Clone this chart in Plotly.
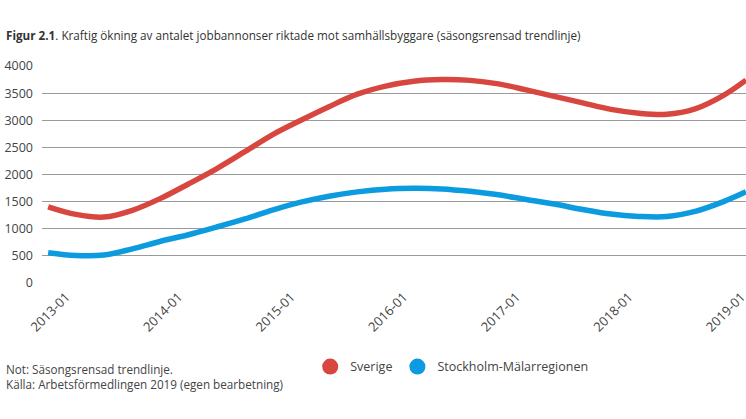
import plotly.graph_objects as go

# Quarterly readings of the seasonally adjusted trend lines
dates = ["2013-01-01", "2013-04-01", "2013-07-01", "2013-10-01",
         "2014-01-01", "2014-04-01", "2014-07-01", "2014-10-01",
         "2015-01-01", "2015-04-01", "2015-07-01", "2015-10-01",
         "2016-01-01", "2016-04-01", "2016-07-01", "2016-10-01",
         "2017-01-01", "2017-04-01", "2017-07-01", "2017-10-01",
         "2018-01-01", "2018-04-01", "2018-07-01", "2018-10-01",
         "2019-01-01", "2019-03-15"]
sverige = [1405, 1265, 1215, 1340, 1560, 1825, 2105, 2420, 2740, 3000,
           3250, 3480, 3630, 3720, 3750, 3735, 3670, 3560, 3440, 3320,
           3200, 3130, 3110, 3210, 3460, 3740]
stockholm = [558, 505, 515, 630, 770, 890, 1030, 1180, 1350, 1490,
             1600, 1680, 1730, 1745, 1735, 1690, 1625, 1540, 1455, 1355,
             1270, 1228, 1225, 1320, 1500, 1681]
tick_vals = ["2013-01-01", "2014-01-01", "2015-01-01", "2016-01-01",
             "2017-01-01", "2018-01-01", "2019-01-01"]
tick_text = ["2013-01", "2014-01", "2015-01", "2016-01", "2017-01", "2018-01", "2019-01"]
y_ticks = [0, 500, 1000, 1500, 2000, 2500, 3000, 3500, 4000]
series_names = ["Sverige", "Stockholm-Mälarregionen"]
colors = ["#d8473f", "#0d9be0"]

FONT = "Open Sans"

fig = go.Figure()
for name, vals, col in zip(series_names, [sverige, stockholm], colors):
    fig.add_trace(go.Scatter(x=dates, y=vals, mode="lines", name=name,
                             line=dict(color=col, width=5.5, shape="spline", smoothing=1.0),
                             showlegend=False, hoverinfo="x+y"))
for name, col in zip(series_names, colors):
    fig.add_trace(go.Scatter(x=[None], y=[None], mode="markers", name=name,
                             marker=dict(color=col, size=17, symbol="circle"),
                             showlegend=True))

fig.update_layout(
    width=746, height=419,
    margin=dict(l=42, r=0, t=66, b=136, pad=0, autoexpand=False),
    paper_bgcolor="white", plot_bgcolor="white",
    font=dict(family=FONT, size=12, color="#444"),
    xaxis=dict(type="date", range=["2012-12-12", "2019-03-15"],
               tickvals=tick_vals, ticktext=tick_text, tickangle=-45,
               showgrid=False, zeroline=False, showline=False,
               tickfont=dict(size=13, color="#444"), ticklabelshift=18,
               ticklabelstandoff=3,
               ticklabeloverflow="allow", automargin=False,
               fixedrange=True),
    yaxis=dict(range=[0, 4000], tickvals=y_ticks, showgrid=True,
               gridcolor="#9a9a9a", gridwidth=1.2, zeroline=False,
               showline=False, tickfont=dict(size=12.5, color="#444"),
               ticklabelstandoff=8, automargin=False, fixedrange=True),
    legend=dict(orientation="h", x=0.381, xanchor="left", y=-0.387, yanchor="middle",
                font=dict(size=12.5, color="#444"), itemwidth=30,
                bgcolor="rgba(0,0,0,0)"),
    showlegend=True,
)

fig.add_annotation(xref="paper", yref="paper", x=-0.054, y=1.143,
                   xanchor="left", yanchor="middle", showarrow=False, align="left",
                   text="<b>Figur 2.1</b>. Kraftig ökning av antalet jobbannonser riktade mot samhällsbyggare (säsongsrensad trendlinje)",
                   font=dict(size=11.7, color="#333"))
fig.add_annotation(xref="paper", yref="paper", x=-0.054, y=-0.43,
                   xanchor="left", yanchor="middle", showarrow=False, align="left",
                   text="Not: Säsongsrensad trendlinje.<br>Källa: Arbetsförmedlingen 2019 (egen bearbetning)",
                   font=dict(size=11.7, color="#444"))

fig.write_html("out.html", config={"displayModeBar": False},
               post_script="document.body.style.margin='0';document.body.style.overflow='hidden';")
